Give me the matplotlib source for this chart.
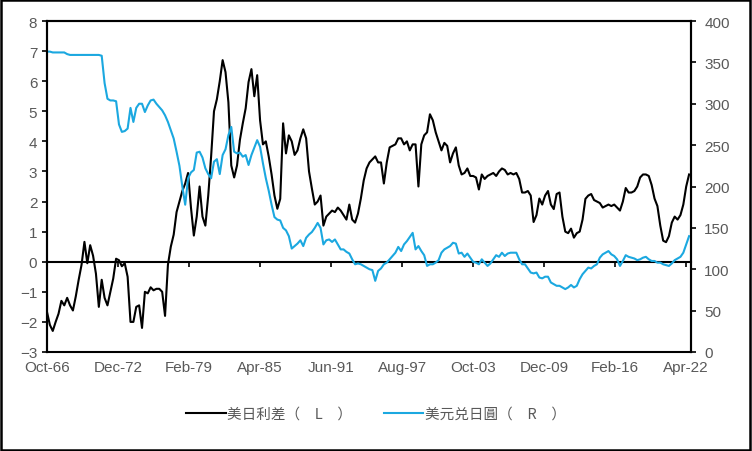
import numpy as np
import matplotlib.pyplot as plt
from matplotlib.patches import Rectangle

# quarterly readings, Oct-66 .. Jul-22
spread = [-1.67, -2.1, -2.3, -2.0, -1.73, -1.3, -1.45, -1.2, -1.45, -1.62,
          -1.15, -0.6, -0.1, 0.66, -0.05, 0.55, 0.2, -0.4, -1.5, -0.6,
          -1.2, -1.45, -1.0, -0.56, 0.1, 0.05, -0.15, -0.05, -0.5, -2.0,
          -2.0, -1.5, -1.45, -2.2, -1.0, -1.05, -0.85, -0.95, -0.9, -0.9,
          -1.0, -1.8, -0.1, 0.5, 0.9, 1.65, 2.0, 2.35, 2.6, 2.95,
          1.8, 0.87, 1.5, 2.5, 1.5, 1.2, 2.2, 3.5, 5.0, 5.4,
          6.0, 6.7, 6.3, 5.3, 3.2, 2.8, 3.2, 4.05, 4.6, 5.1,
          5.97, 6.4, 5.5, 6.2, 4.7, 3.9, 4.0, 3.5, 2.9, 2.2,
          1.76, 2.09, 4.6, 3.6, 4.2, 4.0, 3.55, 3.7, 4.1, 4.4,
          4.1, 3.0, 2.43, 1.9, 2.0, 2.2, 1.2, 1.5, 1.6, 1.7,
          1.65, 1.8, 1.7, 1.55, 1.4, 1.9, 1.4, 1.3, 1.6, 2.1,
          2.7, 3.1, 3.3, 3.4, 3.5, 3.3, 3.3, 2.6, 3.3, 3.8,
          3.85, 3.9, 4.1, 4.1, 3.9, 4.0, 3.7, 3.9, 3.9, 2.5,
          3.9, 4.2, 4.3, 4.9, 4.7, 4.3, 4.0, 3.7, 3.95, 3.85,
          3.3, 3.6, 3.8, 3.2, 2.9, 2.95, 3.1, 2.85, 2.85, 2.8,
          2.4, 2.9, 2.75, 2.85, 2.9, 2.95, 2.85, 3.0, 3.1, 3.05,
          2.9, 2.95, 2.9, 2.95, 2.75, 2.3, 2.3, 2.35, 2.2, 1.32,
          1.55, 2.1, 1.9, 2.2, 2.35, 1.9, 1.75, 2.25, 2.3, 1.5,
          1.0, 0.95, 1.1, 0.8, 0.95, 1.0, 1.4, 2.09, 2.2, 2.25,
          2.05, 2.0, 1.95, 1.8, 1.85, 1.9, 1.85, 1.9, 1.8, 1.7,
          2.0, 2.45, 2.3, 2.3, 2.35, 2.5, 2.8, 2.9, 2.9, 2.85,
          2.55, 2.1, 1.85, 1.2, 0.7, 0.65, 0.85, 1.3, 1.5, 1.4,
          1.55, 1.9, 2.5, 2.9]

usdjpy = [363, 363, 362, 362, 362, 362, 362, 360, 359, 359,
          359, 359, 359, 359, 359, 359, 359, 359, 359, 358,
          325, 306, 304, 304, 303, 275, 266, 267, 270, 295,
          278, 295, 300, 300, 290, 298, 304, 305, 300, 296,
          292, 286, 278, 268, 258, 242, 225, 200, 178, 210,
          217, 220, 241, 242, 235, 222, 215, 210, 230, 233,
          215, 238, 245, 262, 272, 242, 240, 241, 236, 238,
          226, 238, 247, 256, 248, 228, 210, 195, 178, 163,
          160, 159, 150, 147, 140, 125, 128, 131, 135, 128,
          138, 142, 145, 150, 156, 150, 130, 135, 136, 133,
          136, 130, 124, 124, 121, 119, 112, 106, 107, 106,
          104, 102, 100, 99, 86, 98, 101, 106, 108, 112,
          116, 120, 127, 122, 130, 134, 139, 144, 124, 128,
          122, 117, 104, 106, 106, 108, 111, 120, 124, 126,
          128, 132, 131, 119, 120, 115, 119, 114, 109, 108,
          106, 112, 108, 104, 107, 112, 117, 115, 120, 116,
          119, 120, 120, 120, 112, 106, 106, 101, 96, 95,
          96, 90, 89, 91, 91, 84, 82, 80, 80, 78,
          76, 78, 81, 78, 80, 88, 94, 98, 102, 101,
          104, 106, 114, 118, 120, 122, 118, 116, 112, 104,
          110, 117, 115, 114, 113, 111, 112, 114, 115, 112,
          110, 110, 108, 108, 106, 105, 104, 107, 111, 113,
          115, 120, 130, 140]

tick_labels = ['Oct-66', 'Dec-72', 'Feb-79', 'Apr-85', 'Jun-91',
               'Aug-97', 'Oct-03', 'Dec-09', 'Feb-16', 'Apr-22']

months = np.arange(len(spread)) * 3   # months since Oct-66
gray = '#595959'
blue = '#1BA8E0'

plt.rcParams['font.family'] = ['Liberation Sans', 'DejaVu Sans']

fig = plt.figure(figsize=(7.52, 4.52), dpi=100)
ax = fig.add_axes([47 / 752, 1 - 353 / 452, 644 / 752, 331 / 452])
ax2 = ax.twinx()

ax.plot(months, spread, color='black', lw=1.5, label='美日利差（\u3000L\u3000）')
ax2.plot(months, usdjpy, color=blue, lw=1.5, label='美元兑日圓（\u3000R\u3000）')

ax.set_xlim(0, 671)
ax.set_ylim(-3, 8)
ax.set_yticks(range(-3, 9))
ax2.set_ylim(0, 400)
ax2.set_yticks(range(0, 401, 50))
ax.set_xticks(np.arange(len(tick_labels)) * 74)

# x ticks sit on the zero line, labels at the bottom
ax.spines['bottom'].set_position(('data', 0))
ax.tick_params(axis='x', direction='out', length=3.5, width=1.2, labelbottom=False)
ax2.xaxis.set_visible(True)
ax2.set_xticks(np.arange(len(tick_labels)) * 74)
ax2.set_xticklabels(tick_labels)
ax2.tick_params(axis='x', length=0, pad=6, labelsize=11, labelcolor=gray)

ax.tick_params(axis='y', direction='out', length=3.5, width=1.2, pad=3.5,
               labelsize=11, labelcolor=gray)
ax2.tick_params(axis='y', direction='out', length=3.5, width=1.2, pad=6,
                labelsize=11, labelcolor=gray)

for a in (ax, ax2):
    for s in a.spines.values():
        s.set_linewidth(1.5)
        s.set_color('black')

h1, l1 = ax.get_legend_handles_labels()
h2, l2 = ax2.get_legend_handles_labels()
fig.legend(h1 + h2, l1 + l2, loc='center', bbox_to_anchor=(0.5, 1 - 415 / 452),
           ncol=2, frameon=False, handlelength=2.7, handletextpad=0.1,
           columnspacing=2.2, labelcolor=gray,
           prop={'family': ['Noto Sans CJK SC', 'DejaVu Sans'], 'size': 10.5})

fig.patches.append(Rectangle((0.001, 0.002), 0.996, 0.996, transform=fig.transFigure,
                             fill=False, edgecolor='black', lw=1.8))

fig.savefig('out.png', dpi=100)
